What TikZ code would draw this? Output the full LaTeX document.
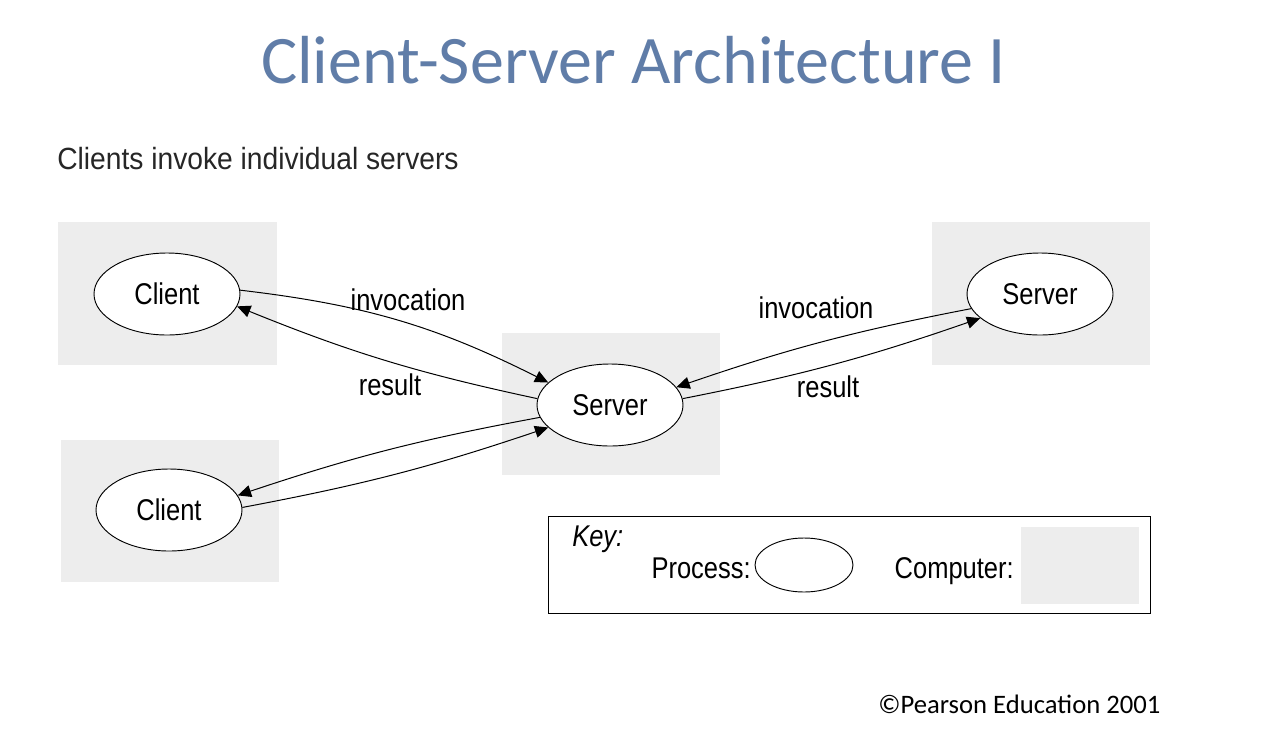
\documentclass[tikz,border=0pt]{standalone}
\usepackage{fontspec}
\setmainfont{Carlito}
\newfontfamily\narrowfont[FakeStretch=0.85]{Liberation Sans}
\newfontfamily\subfont[FakeStretch=0.92]{Liberation Sans}
\usetikzlibrary{shapes.geometric,arrows.meta}
\definecolor{titleblue}{RGB}{96,125,168}
\definecolor{compgray}{RGB}{237,237,237}
\begin{document}
\begin{tikzpicture}[x=0.75pt,y=-0.75pt,
  computer/.style={fill=compgray,draw=none,inner sep=0pt,anchor=north west},
  process/.style={ellipse,draw,line width=0.7pt,fill=white,minimum width=109.5pt,minimum height=61.5pt,inner sep=0pt,font=\narrowfont\fontsize{22.5}{27}\selectfont},
  lbl/.style={font=\narrowfont\fontsize{22.5}{27}\selectfont,anchor=base,inner sep=0pt},
  conn/.style={-{Triangle[length=10pt,width=9pt]},line width=0.75pt}]
\useasboundingbox (0,0) rectangle (1270,736);
\fill[white] (0,0) rectangle (1270,736);
% title
\node[font=\fontsize{51}{60}\selectfont,text=titleblue,anchor=base,inner sep=0pt] (title) at (633.5,83) {Client-Server Architecture I};
\node[font=\subfont\fontsize{23}{28}\selectfont,anchor=base west,inner sep=0pt,text=black!85] (sub) at (57,169) {Clients invoke individual servers};
% computers
\node[computer,minimum width=164.25pt,minimum height=107.25pt] (pc1) at (58,222) {};
\node[computer,minimum width=163.5pt,minimum height=106.5pt] (pc2) at (61,440) {};
\node[computer,minimum width=163.5pt,minimum height=106.5pt] (pc3) at (502,333) {};
\node[computer,minimum width=163.5pt,minimum height=107.25pt] (pc4) at (932,222) {};
% processes
\node[process] (c1) at (167,294) {Client};
\node[process] (c2) at (169,510) {Client};
\node[process] (srv) at (610,405) {Server};
\node[process] (s2) at (1040,294) {Server};
% connectors
\draw[conn] (c1.3) to[bend left=10] (srv.160);
\draw[conn] (srv.175) to[bend left=5] (c1.-10);
\draw[conn] (srv.190) to[bend right=4] (c2.12);
\draw[conn] (c2.2) to[bend right=4] (srv.200);
\draw[conn] (s2.192) to[bend right=4] (srv.15);
\draw[conn] (srv.5) to[bend right=4] (s2.202);
% labels
\node[lbl] (l1) at (408,310) {invocation};
\node[lbl] (l2) at (390,395) {result};
\node[lbl] (l3) at (816,318) {invocation};
\node[lbl] (l4) at (828,397) {result};
% key
\node[draw,line width=1pt,minimum width=451.5pt,minimum height=72.75pt,inner sep=0pt,anchor=north west] (key) at (548,516) {};
\node[lbl,anchor=base west,font=\narrowfont\itshape\fontsize{22.5}{27}\selectfont] (keyt) at (572,546) {Key:};
\node[lbl,anchor=base east] (proc) at (751,578) {Process:};
\node[ellipse,draw,line width=0.7pt,minimum width=73.5pt,minimum height=40.5pt,inner sep=0pt] (kell) at (804,565) {};
\node[lbl,anchor=base east] (comp) at (1014,578) {Computer:};
\node[computer,minimum width=88.5pt,minimum height=57.75pt] (kpc) at (1021,527) {};
% copyright
\node[font=\fontsize{20}{24}\selectfont,anchor=base west,inner sep=0pt] (copy) at (878,713) {\textcopyright Pearson Education 2001};
\end{tikzpicture}
\end{document}
